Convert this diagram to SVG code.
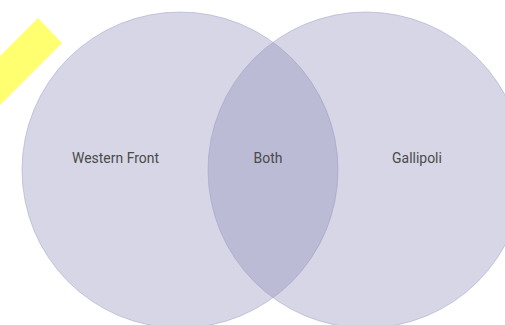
<svg xmlns="http://www.w3.org/2000/svg" width="505" height="325" viewBox="0 0 505 325">
<style>
.set{fill:#8787b5;fill-opacity:0.34;stroke:#9d9dc6;stroke-opacity:0.5;stroke-width:1}
.lbl{font-family:Roboto,"Liberation Sans",sans-serif;font-size:15.5px;fill:#4a4a4a;text-anchor:middle}
</style>
<rect width="505" height="325" fill="#fff"/>
<polygon points="38,18 62,43 0,105 0,56" fill="#ffff70"/>
<g id="western-front">
<circle class="set" cx="180" cy="170" r="158"/>
<text class="lbl" transform="translate(115.5,163) scale(0.9,1)">Western Front</text>
</g>
<g id="gallipoli">
<circle class="set" cx="366" cy="170" r="158"/>
<text class="lbl" transform="translate(417,163) scale(0.9,1)">Gallipoli</text>
</g>
<g id="both">
<text class="lbl" transform="translate(268,163) scale(0.9,1)">Both</text>
</g>
<g id="connectors"/>
</svg>
